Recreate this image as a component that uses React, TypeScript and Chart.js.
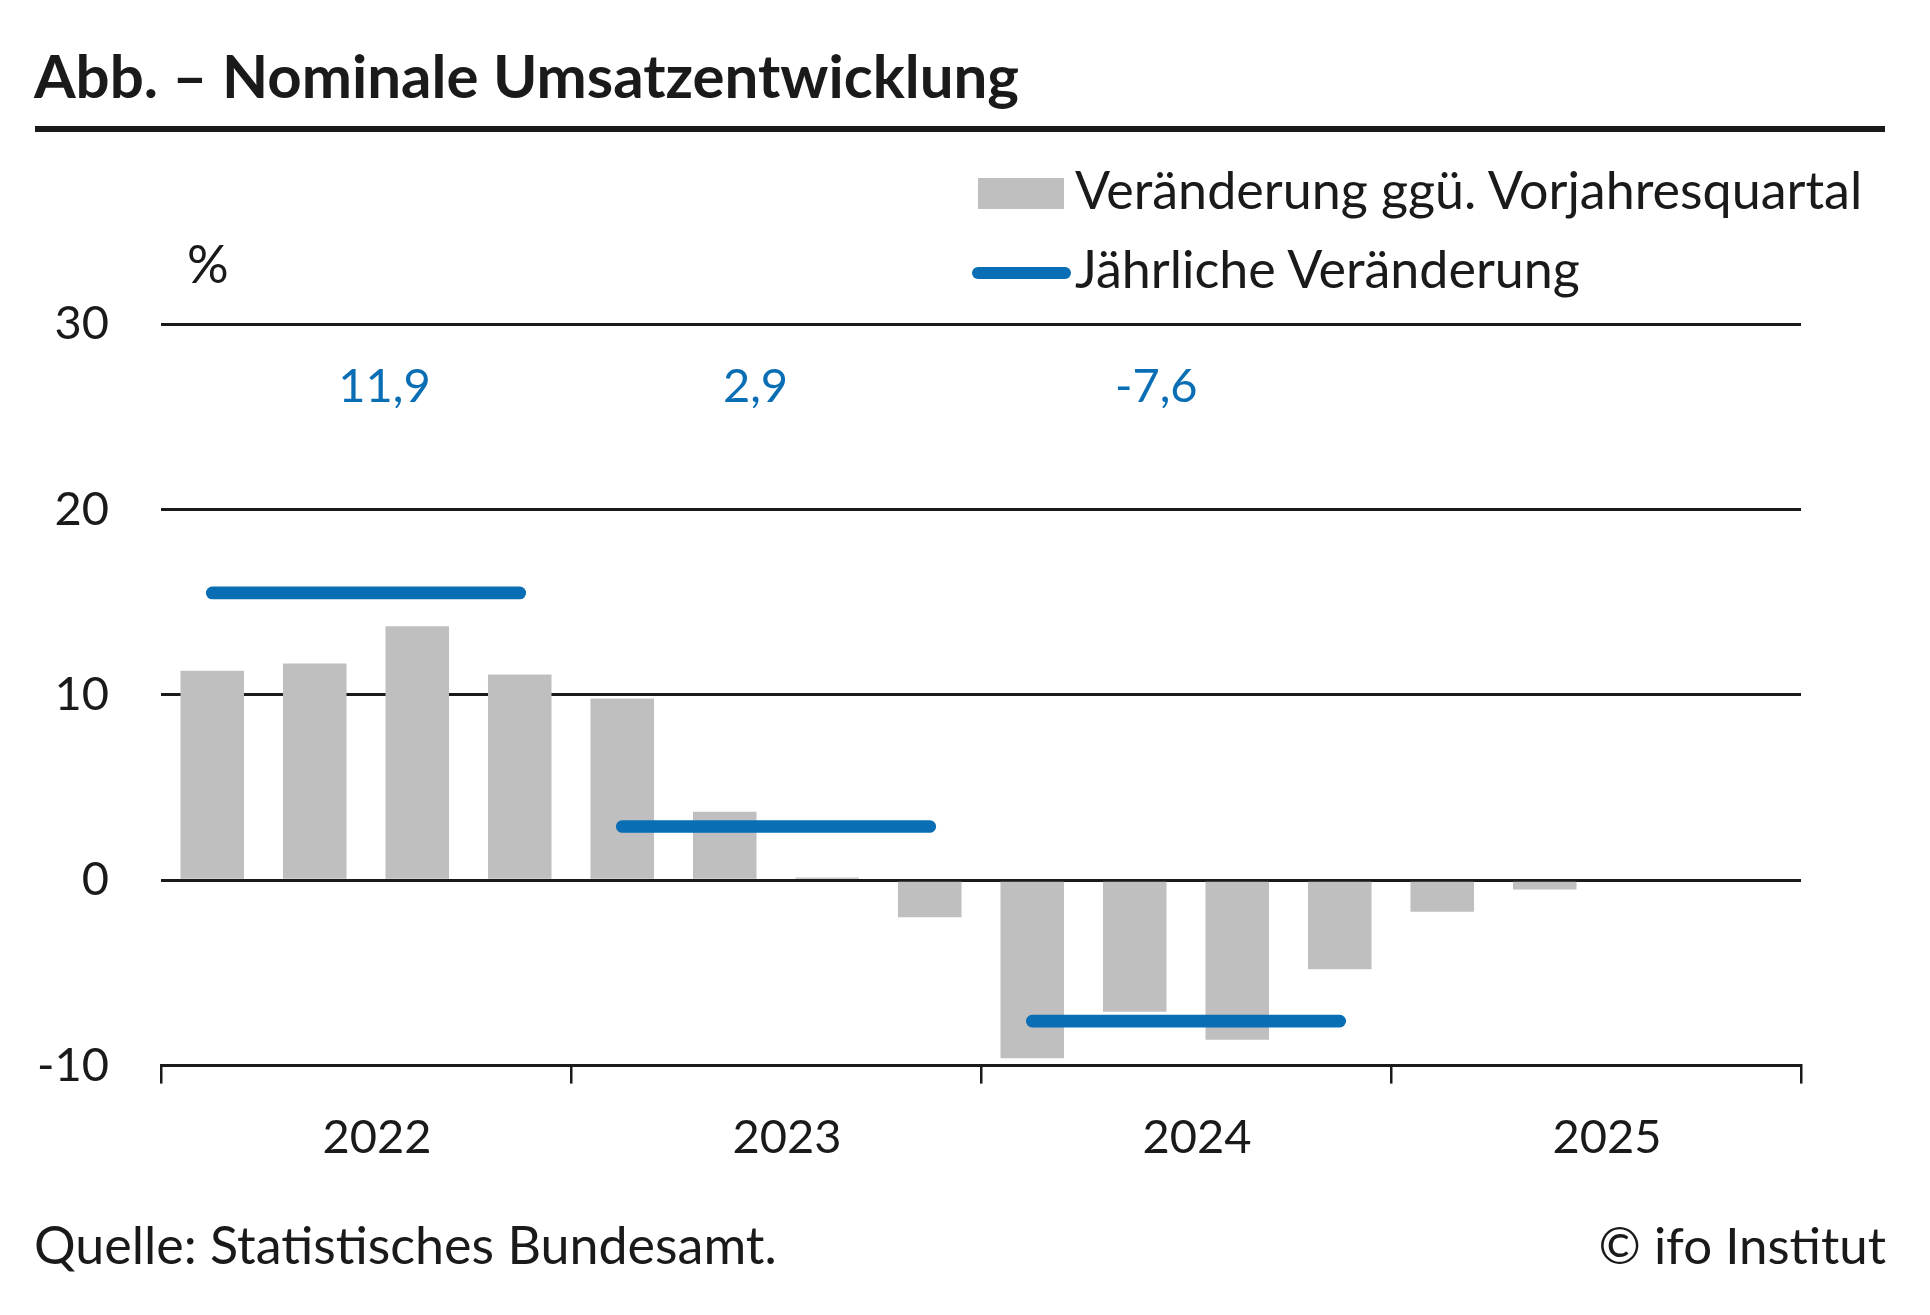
import React, { useEffect, useRef } from "react";
import { Chart, registerables } from "chart.js";

Chart.register(...registerables);

// ---- data ----
const quarterLabels = [
  "2022 Q1", "2022 Q2", "2022 Q3", "2022 Q4",
  "2023 Q1", "2023 Q2", "2023 Q3", "2023 Q4",
  "2024 Q1", "2024 Q2", "2024 Q3", "2024 Q4",
  "2025 Q1", "2025 Q2", "2025 Q3", "2025 Q4",
];
const yearLabels = ["2022", "2023", "2024", "2025"];
const quarterlyChange = [11.3, 11.7, 13.7, 11.1, 9.8, 3.7, 0.15, -2.0, -9.6, -7.1, -8.6, -4.8, -1.7, -0.5];
const annualLineLevel = [15.5, 2.9, -7.6];
const annualChangeLabels = [11.9, 2.9, -7.6];
const yTicks = [-10, 0, 10, 20, 30];

const BLUE = "#0a6eb5";
const GREY = "#bfbfbf";
const INK = "#1a1a1a";
const FONT = "Lato, 'Noto Sans', sans-serif";

// positions (category index units, value units) for the annual labels
const annualLabelPos = [
  { x: 1.68, y: 26.6 },
  { x: 5.3, y: 26.6 },
  { x: 9.21, y: 26.6 },
];

const annualLabelPlugin = {
  id: "annualLabels",
  afterDatasetsDraw(chart: any) {
    const { ctx, scales } = chart;
    const xs = scales.x;
    const ys = scales.y;
    ctx.save();
    ctx.font = `47px ${FONT}`;
    ctx.fillStyle = BLUE;
    ctx.textAlign = "center";
    ctx.textBaseline = "middle";
    annualChangeLabels.forEach((v, i) => {
      const p = annualLabelPos[i];
      const txt = v.toFixed(1).replace(".", ",");
      ctx.fillText(txt, xs.getPixelForValue(p.x), ys.getPixelForValue(p.y));
    });
    ctx.restore();
  },
};

export default function App() {
  const ref = useRef<HTMLCanvasElement | null>(null);

  useEffect(() => {
    if (!ref.current) return;
    Chart.defaults.font.family = FONT;
    const lineSets = annualLineLevel.map((lvl, yi) => ({
      type: "line" as const,
      label: "Jährliche Veränderung",
      data: quarterLabels.map((_, k) => (Math.floor(k / 4) === yi ? lvl : null)),
      borderColor: BLUE,
      backgroundColor: BLUE,
      borderWidth: 12.7,
      borderCapStyle: "round" as const,
      pointRadius: 0,
      pointHoverRadius: 0,
      spanGaps: false,
      fill: false,
      order: 1,
    }));
    const chart = new Chart(ref.current, {
      type: "bar",
      data: {
        labels: quarterLabels,
        datasets: [
          {
            type: "bar" as const,
            label: "Veränderung ggü. Vorjahresquartal",
            data: quarterlyChange,
            backgroundColor: GREY,
            barPercentage: 0.62,
            categoryPercentage: 1,
            order: 2,
          },
          ...lineSets,
        ] as any,
      },
      options: {
        animation: false,
        responsive: false,
        devicePixelRatio: 1,
        layout: { padding: { left: 0, right: 129, top: 0, bottom: 81 } },
        plugins: { legend: { display: false }, tooltip: { enabled: false } },
        scales: {
          x: {
            type: "category",
            position: "bottom",
            offset: true,
            weight: 0,
            grid: {
              offset: true,
              drawOnChartArea: false,
              drawTicks: true,
              tickLength: 18,
              lineWidth: 2.5,
              color: (c: any) =>
                c.index === undefined || c.index % 4 === 0 ? INK : "rgba(0,0,0,0)",
            },
            ticks: { display: false },
            border: { display: true, color: INK, width: 3 },
          },
          x2: {
            type: "category",
            labels: yearLabels,
            position: "bottom",
            offset: true,
            weight: 1,
            grid: { display: false, drawTicks: false },
            border: { display: false },
            ticks: {
              color: INK,
              font: { size: 47, family: FONT },
              padding: 26,
              labelOffset: 11,
            },
          },
          y: {
            min: yTicks[0],
            max: yTicks[yTicks.length - 1],
            afterFit: (s: any) => {
              s.width = 161;
            },
            afterBuildTicks: (s: any) => {
              s.ticks = yTicks.map((v) => ({ value: v }));
            },
            grid: { color: INK, lineWidth: 3, drawTicks: false },
            border: { display: false },
            ticks: {
              color: INK,
              padding: 52,
              font: { size: 47, family: FONT },
              callback: (v: any) => String(v),
            },
          },
        } as any,
      },
      plugins: [annualLabelPlugin],
    });
    return () => chart.destroy();
  }, []);

  const txt = (fs: number, baseline: number) => ({
    position: "absolute" as const,
    top: baseline - 0.887 * fs,
    fontSize: fs,
    lineHeight: 1,
    fontFamily: FONT,
    color: INK,
    whiteSpace: "nowrap" as const,
    margin: 0,
  });

  return (
    <div
      style={{
        position: "absolute",
        left: 0,
        top: 0,
        width: 1930,
        height: 1315,
        overflow: "hidden",
        background: "#fff",
      }}
    >
      <div style={{ ...txt(60, 98), left: 34, fontWeight: 700 }}>
        Abb. – Nominale Umsatzentwicklung
      </div>
      <div
        style={{ position: "absolute", left: 35, top: 126, width: 1850, height: 6, background: INK }}
      />
      <div
        style={{ position: "absolute", left: 978, top: 178, width: 86, height: 31, background: GREY }}
      />
      <div style={{ ...txt(52, 209), left: 1075 }}>Veränderung ggü. Vorjahresquartal</div>
      <div
        style={{
          position: "absolute",
          left: 972,
          top: 266.6,
          width: 99,
          height: 12.7,
          borderRadius: 6.35,
          background: BLUE,
        }}
      />
      <div style={{ ...txt(52, 288), left: 1075 }}>Jährliche Veränderung</div>
      <div style={{ ...txt(52, 283), left: 187 }}>%</div>
      <canvas
        ref={ref}
        width={1930}
        height={1029}
        style={{ position: "absolute", left: 0, top: 243.8, width: 1930, height: 1029 }}
      />
      <div style={{ ...txt(52, 1264), left: 34 }}>Quelle: Statistisches Bundesamt.</div>
      <div style={{ ...txt(51, 1264), right: 44, textAlign: "right" }}>© ifo Institut</div>
    </div>
  );
}
